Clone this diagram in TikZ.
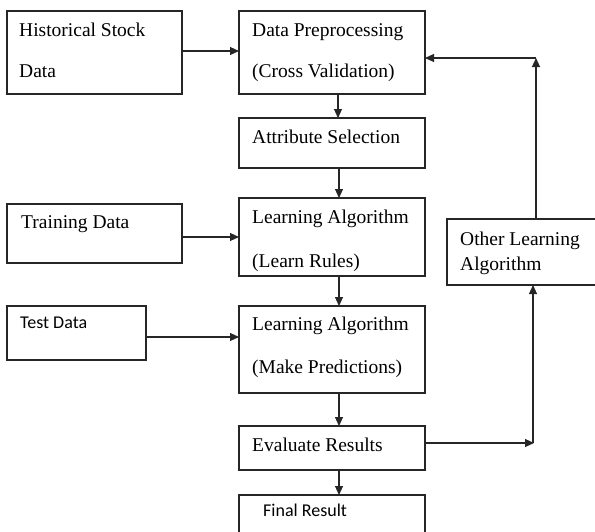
\documentclass[tikz,border=0pt]{standalone}
\usepackage{fontspec}
\setmainfont{Liberation Serif}
\newfontfamily\calib{Carlito}
\usetikzlibrary{arrows.meta}
\begin{document}
\begin{tikzpicture}[x=1pt,y=-1pt,
  box/.style={draw=black!85, line width=1.2pt, inner sep=0pt, outer sep=0pt},
  txt/.style={anchor=base west, inner sep=0pt, font=\fontsize{19.5}{22}\selectfont},
  ctxt/.style={anchor=base west, inner sep=0pt, font=\calib\fontsize{18}{20}\selectfont},
  arr/.style={line width=1.1pt, draw=black!85, -{Triangle[length=9pt,width=8pt]}},
  ln/.style={line width=1.1pt, draw=black!85}]
\fill[white] (0,0) rectangle (595,531);
\useasboundingbox (0,0) rectangle (595,531);
\clip (0,0) rectangle (595,531);
% boxes
\node[box, minimum width=175pt, minimum height=83pt] (hist)  at (94.5,52.5) {};
\node[box, minimum width=186pt, minimum height=83pt] (prep)  at (332,52.5) {};
\node[box, minimum width=186pt, minimum height=50pt] (attr)  at (332,143) {};
\node[box, minimum width=175pt, minimum height=59pt] (train) at (94.5,233.5) {};
\node[box, minimum width=186pt, minimum height=78pt] (lr)    at (332,237) {};
\node[box, minimum width=139pt, minimum height=54pt] (test)  at (76.5,333) {};
\node[box, minimum width=186pt, minimum height=87pt] (mp)    at (332,349.5) {};
\node[box, minimum width=150pt, minimum height=66pt] (other) at (522,252) {};
\node[box, minimum width=186pt, minimum height=44pt] (eval)  at (332,448) {};
\node[box, minimum width=186pt, minimum height=45pt] (final) at (332,517.5) {};
% texts
\node[txt] (t1a) at (19,36) {Historical Stock};
\node[txt] (t1b) at (19,77) {Data};
\node[txt] (t2a) at (252,36) {Data Preprocessing};
\node[txt] (t2b) at (252,77) {(Cross Validation)};
\node[txt] (t3)  at (252,143) {Attribute Selection};
\node[txt] (t4)  at (21,228) {Training Data};
\node[txt] (t5a) at (252,223) {Learning Algorithm};
\node[txt] (t5b) at (252,267) {(Learn Rules)};
\node[ctxt] (t6) at (20,328) {Test Data};
\node[txt] (t7a) at (252,330) {Learning Algorithm};
\node[txt] (t7b) at (252,373) {(Make Predictions)};
\node[txt] (t8a) at (460,245) {Other Learning};
\node[txt] (t8b) at (460,270) {Algorithm};
\node[txt] (t9)  at (252,451) {Evaluate Results};
\node[ctxt] (t10) at (263,516) {Final Result};
% connectors
\coordinate (c1) at (533,443);
\coordinate (c2) at (536,58);
\draw[arr] ([yshift=1.5pt]hist.east) -- ([yshift=1.5pt]prep.west);
\draw[arr] ([xshift=6pt]prep.south) -- ([xshift=6pt]attr.north);
\draw[arr] ([xshift=7pt]attr.south) -- ([xshift=7pt]lr.north);
\draw[arr] (train.east |- lr.west) -- (lr.west);
\draw[arr] ([xshift=7pt]lr.south) -- ([xshift=7pt]mp.north);
\draw[arr] ([yshift=-4pt]test.east) -- ([yshift=-4pt]test.east -| mp.west);
\draw[arr] ([xshift=7pt]mp.south) -- ([xshift=7pt]eval.north);
\draw[arr] ([xshift=7pt]eval.south) -- ([xshift=7pt]final.north);
\draw[arr] (eval.east |- c1) -- ([xshift=1pt]c1);
\draw[arr] (c1) -- (c1 |- other.south);
\draw[arr] (c2 |- other.north) -- (c2);
\draw[arr] (c2) -- (c2 -| prep.east);
\end{tikzpicture}
\end{document}
